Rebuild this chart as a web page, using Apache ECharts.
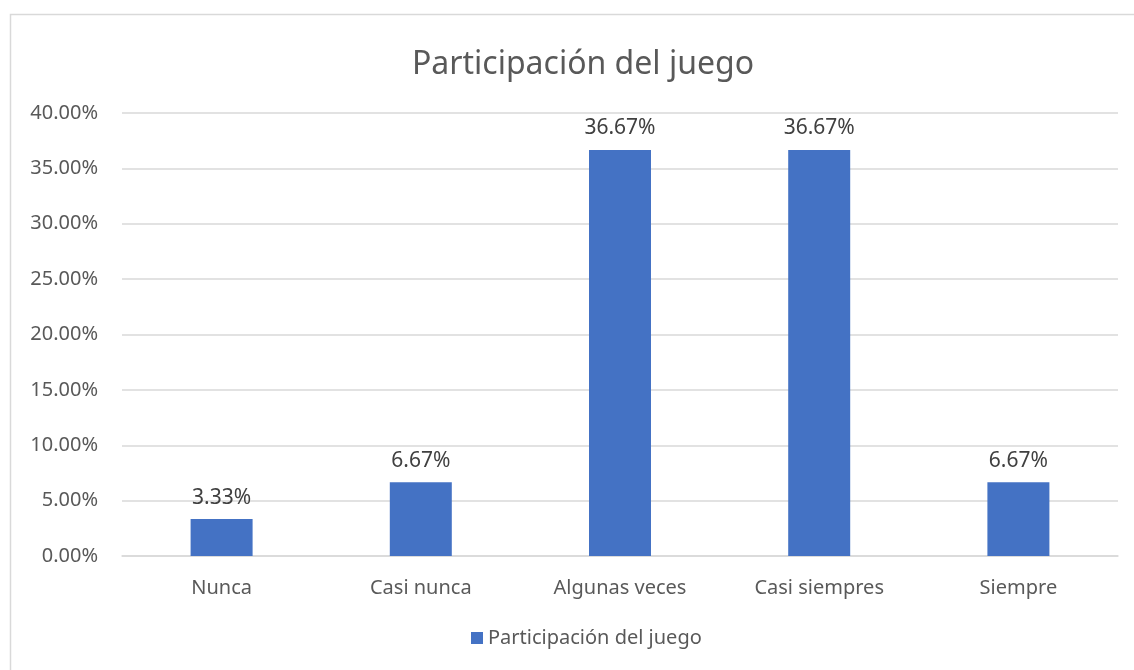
<!DOCTYPE html>
<html>
<head>
<meta charset="utf-8">
<script src="https://cdn.jsdelivr.net/npm/echarts@6/dist/echarts.min.js"></script>
<style>
  html, body { margin: 0; padding: 0; background: #fff; }
  #chart { width: 1134px; height: 670px; }
</style>
</head>
<body>
<div id="chart"></div>
<script>
  // data
  const categories = ['Nunca', 'Casi nunca', 'Algunas veces', 'Casi siempres', 'Siempre'];
  const values = [3.33, 6.67, 36.67, 36.67, 6.67];
  const seriesName = 'Participación del juego';

  const font = '"Noto Sans", "Open Sans", sans-serif';
  const chart = echarts.init(document.getElementById('chart'));

  chart.setOption({
    animation: false,
    backgroundColor: '#fff',
    textStyle: { fontFamily: font },
    graphic: [{
      type: 'rect',
      shape: { x: 10.5, y: 14.5, width: 1200, height: 700 },
      style: { fill: 'none', stroke: '#d9d9d9', lineWidth: 1.5 },
      silent: true
    }],
    title: {
      text: 'Participación del juego',
      left: 578,
      textAlign: 'center',
      top: 44,
      textStyle: { fontFamily: font, fontSize: 32, fontWeight: 'normal', color: '#595959' }
    },
    legend: {
      bottom: 17,
      left: 466,
      itemWidth: 12,
      itemHeight: 12,
      itemGap: 6,
      textStyle: { fontFamily: font, fontSize: 20, color: '#595959' },
      data: [{ name: seriesName, icon: 'rect' }]
    },
    grid: { left: 122, right: 16, top: 113, bottom: 114, containLabel: false },
    xAxis: {
      type: 'category',
      data: categories,
      axisLine: { lineStyle: { color: '#d9d9d9', width: 1.5 } },
      axisTick: { show: false },
      axisLabel: { fontFamily: font, fontSize: 20, color: '#595959', margin: 22 }
    },
    yAxis: {
      type: 'value',
      min: 0,
      max: 40,
      interval: 5,
      axisLine: { show: false },
      axisTick: { show: false },
      splitLine: { lineStyle: { color: '#d9d9d9', width: 1.5 } },
      axisLabel: {
        fontFamily: font, fontSize: 20, color: '#595959', margin: 24,
        formatter: v => v.toFixed(2) + '%'
      }
    },
    series: [{
      name: seriesName,
      type: 'bar',
      data: values,
      barWidth: 62,
      itemStyle: { color: '#4472c4' },
      label: {
        show: true,
        position: 'top',
        distance: 11,
        fontFamily: font,
        fontSize: 21,
        color: '#404040',
        formatter: p => p.value.toFixed(2) + '%'
      }
    }]
  });
</script>
</body>
</html>
